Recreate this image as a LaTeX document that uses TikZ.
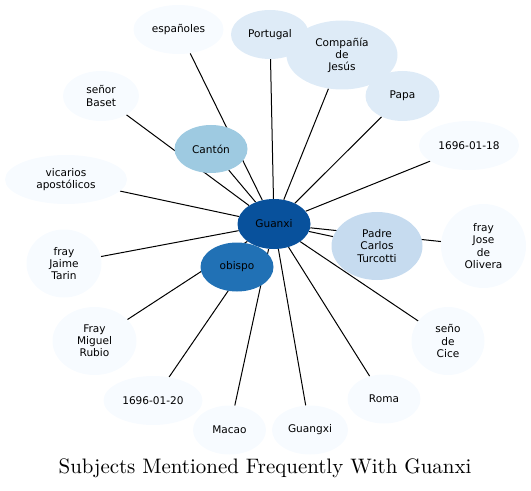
\documentclass[tikz,border=0pt]{standalone}
\usepackage{fontspec}
\usepackage{xcolor}
\usepackage{tikz}
\usetikzlibrary{shapes, arrows, positioning, calc, backgrounds}
\newfontfamily\nodefont{DejaVu Sans}
\newfontfamily\titlefont{lmroman10-regular}[Extension=.otf]
\definecolor{blues0}{HTML}{F7FBFF}
\definecolor{blues1}{HTML}{DEEBF7}
\definecolor{blues2}{HTML}{C6DBEF}
\definecolor{blues3}{HTML}{9ECAE1}
\definecolor{blues6}{HTML}{2171B5}
\definecolor{blues7}{HTML}{08519C}

\begin{document}
\begin{tikzpicture}[x=1bp, y=-1bp,
		subject/.style={ellipse, fill=#1, inner sep=0pt, align=center,
			font=\nodefont\fontsize{10.6}{12.2}\selectfont},
		link/.style={line width=1bp, black}]
		\useasboundingbox (0,0) rectangle (531,491);

		\node[subject=blues7, minimum width=73bp, minimum height=50bp] (Guanxi) at (274,224) {Guanxi};
		\node[subject=blues6, minimum width=73bp, minimum height=49bp] (obispo) at (237,267) {obispo};
		\node[subject=blues3, minimum width=73bp, minimum height=48bp] (Canton) at (211,149) {Cantón};
		\node[subject=blues2, minimum width=91bp, minimum height=68bp] (Padre Carlos Turcotti) at (377,246) {Padre\\
			Carlos\\
			Turcotti};
		\node[subject=blues0, minimum width=85bp, minimum height=84bp] (fray Jose de Olivera) at (483.5,246) {fray\\
			Jose\\
			de\\
			Olivera};
		\node[subject=blues0, minimum width=73bp, minimum height=68bp] (seno de Cice) at (448,341) {seño\\
			de\\
			Cice};
		\node[subject=blues0, minimum width=73bp, minimum height=49bp] (Roma) at (384,399) {Roma};
		\node[subject=blues0, minimum width=76bp, minimum height=49bp] (Guangxi) at (310,430) {Guangxi};
		\node[subject=blues0, minimum width=73bp, minimum height=49bp] (Macao) at (229.5,430) {Macao};
		\node[subject=blues0, minimum width=99bp, minimum height=49bp] (1696 01 20) at (153,400.5) {1696-01-20};
		\node[subject=blues0, minimum width=84bp, minimum height=68bp] (Fray Miguel Rubio) at (94.5,341) {Fray\\
			Miguel\\
			Rubio};
		\node[subject=blues0, minimum width=75bp, minimum height=68bp] (fray Jaime Tarin) at (64,263.5) {fray\\
			Jaime\\
			Tarin};
		\node[subject=blues0, minimum width=122bp, minimum height=49bp] (vicarios apostolicos) at (66,179.5) {vicarios\\
			apostólicos};
		\node[subject=blues0, minimum width=76bp, minimum height=50bp] (senor Baset) at (101,96) {señor\\
			Baset};
		\node[subject=blues0, minimum width=90bp, minimum height=49bp] (espanoles) at (178.5,29.5) {españoles};
		\node[subject=blues1, minimum width=78bp, minimum height=49bp] (Portugal) at (270,34.5) {Portugal};
		\node[subject=blues1, minimum width=111bp, minimum height=69bp] (Compania de Jesus) at (342,55) {Compañía\\
			de\\
			Jesús};
		\node[subject=blues1, minimum width=74bp, minimum height=50bp] (Papa) at (402.5,96) {Papa};
		\node[subject=blues0, minimum width=100bp, minimum height=49bp] (1696 01 18) at (469,145.5) {1696-01-18};

		\node[anchor=base, font=\titlefont\fontsize{21}{25}\selectfont] (Titolo) at (265,473.5) {Subjects Mentioned Frequently With Guanxi};

		\begin{pgfonlayer}{background}
			\draw[link] (Guanxi) to (obispo);
			\draw[link] (Guanxi) to (Canton);
			\draw[link] (Guanxi) to (Padre Carlos Turcotti);
			\draw[link] (Guanxi) to (fray Jose de Olivera);
			\draw[link] (Guanxi) to (seno de Cice);
			\draw[link] (Guanxi) to (Roma);
			\draw[link] (Guanxi) to (Guangxi);
			\draw[link] (Guanxi) to (Macao);
			\draw[link] (Guanxi) to (1696 01 20);
			\draw[link] (Guanxi) to (Fray Miguel Rubio);
			\draw[link] (Guanxi) to (fray Jaime Tarin);
			\draw[link] (Guanxi) to (vicarios apostolicos);
			\draw[link] (Guanxi) to (senor Baset);
			\draw[link] (Guanxi) to (espanoles);
			\draw[link] (Guanxi) to (Portugal);
			\draw[link] (Guanxi) to (Compania de Jesus);
			\draw[link] (Guanxi) to (Papa);
			\draw[link] (Guanxi) to (1696 01 18);
		\end{pgfonlayer}
	\end{tikzpicture}
\end{document}
